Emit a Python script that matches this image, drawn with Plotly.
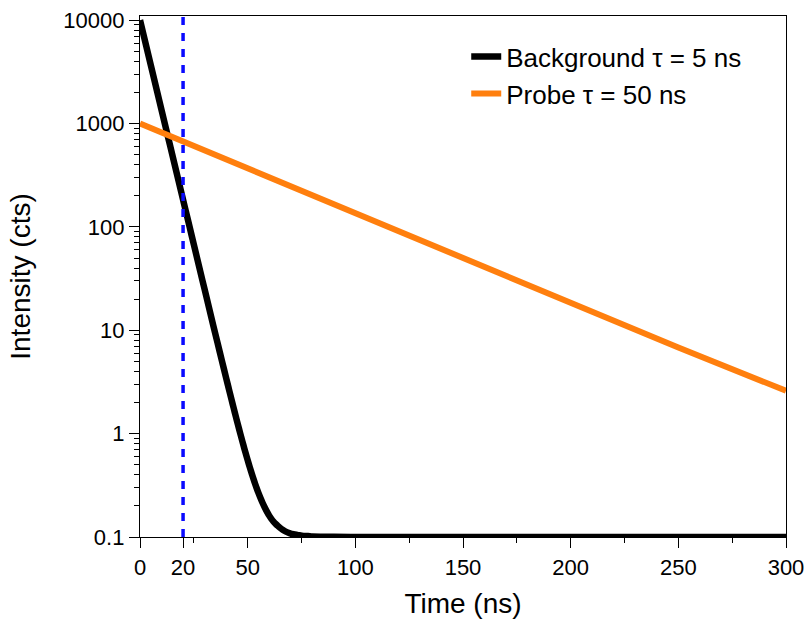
import plotly.graph_objects as go

# Background decay (tau = 5 ns)
bg_time = [0, 2, 4, 6, 8, 10, 12, 14, 16, 18, 20, 22, 24, 26, 28, 30, 32, 34, 36, 38,
           40, 41, 42, 43, 44, 45, 46, 47, 48, 49, 50, 51, 52, 53, 54, 55, 56, 57, 58,
           59, 60, 61, 62, 63, 64, 65, 66, 67, 68, 69, 70, 72, 74, 76, 78, 80, 85, 90,
           100, 150, 200, 250, 300]
bg_intensity = [10000, 6703, 4493, 3012, 2019, 1353, 907, 608, 408, 273, 183, 123, 82.3,
                55.2, 37.0, 24.9, 16.7, 11.2, 7.56, 5.11,
                3.455, 2.847, 2.349, 1.941, 1.607, 1.334, 1.110, 0.927, 0.777, 0.654,
                0.554, 0.472, 0.404, 0.349, 0.304, 0.267, 0.237, 0.212, 0.192, 0.175,
                0.161, 0.150, 0.141, 0.134, 0.128, 0.123, 0.1185, 0.115, 0.112, 0.110,
                0.108, 0.106, 0.104, 0.1025, 0.102, 0.101, 0.1006, 0.1003,
                0.100, 0.100, 0.100, 0.100, 0.100]

# Probe decay (tau = 50 ns)
probe_time = [0, 50, 100, 150, 200, 250, 300]
probe_intensity = [1000, 368, 135, 49.8, 18.4, 6.8, 2.6]

# Gate marker
gate_time = 20

x_tickvals = [0, 20, 50, 100, 150, 200, 250, 300]
x_minor = [25, 75, 125, 175, 225, 275]
y_tickvals = [0.1, 1, 10, 100, 1000, 10000]
y_ticktext = ["0.1", "1", "10", "100", "1000", "10000"]
y_minor = [m * 10 ** e for e in range(-1, 4) for m in range(2, 10)]

FONT = "Arial, Liberation Sans, sans-serif"

fig = go.Figure()
fig.add_trace(go.Scatter(x=bg_time, y=bg_intensity, mode="lines",
                         line=dict(color="black", width=6.5, shape="spline",
                                   smoothing=0.8),
                         name="Background \u03c4 = 5 ns"))
fig.add_trace(go.Scatter(x=probe_time, y=probe_intensity, mode="lines",
                         line=dict(color="#FF7F0E", width=6),
                         name="Probe \u03c4 = 50 ns"))

fig.add_shape(type="line", xref="x", yref="paper", x0=gate_time, x1=gate_time,
              y0=0, y1=1, line=dict(color="#0A0AFF", width=3.5, dash="8px,8px"))

fig.update_layout(
    width=806, height=620,
    margin=dict(l=140, r=20, t=16, b=83),
    paper_bgcolor="white", plot_bgcolor="white",
    font=dict(family=FONT, color="black"),
    showlegend=True,
    legend=dict(x=0.505, y=0.967, xanchor="left", yanchor="top",
                font=dict(size=26, family=FONT), bgcolor="rgba(0,0,0,0)",
                tracegroupgap=0),
    xaxis=dict(range=[0, 300], tickvals=x_tickvals, ticks="outside", ticklen=10,
               tickwidth=1.3, tickcolor="black", showline=True, linecolor="black",
               linewidth=1.3, mirror=True, showgrid=False, zeroline=False,
               automargin=False, tickfont=dict(size=22),
               minor=dict(tickvals=x_minor, ticks="outside", ticklen=5, tickwidth=1.3,
                          tickcolor="black", showgrid=False),
               title=dict(text="Time (ns)", font=dict(size=28), standoff=14)),
    yaxis=dict(type="log", range=[-1, 4.04], tickvals=y_tickvals, ticktext=y_ticktext,
               ticks="outside", ticklen=10, tickwidth=1.3, tickcolor="black",
               showline=True, linecolor="black", linewidth=1.3, mirror=True,
               showgrid=False, zeroline=False, automargin=False,
               tickfont=dict(size=22),
               minor=dict(tickvals=y_minor, ticks="outside", ticklen=5, tickwidth=1.3,
                          tickcolor="black", showgrid=False),
               title=dict(text="Intensity (cts)", font=dict(size=28), standoff=24)),
)

fig.write_html("out.html")
